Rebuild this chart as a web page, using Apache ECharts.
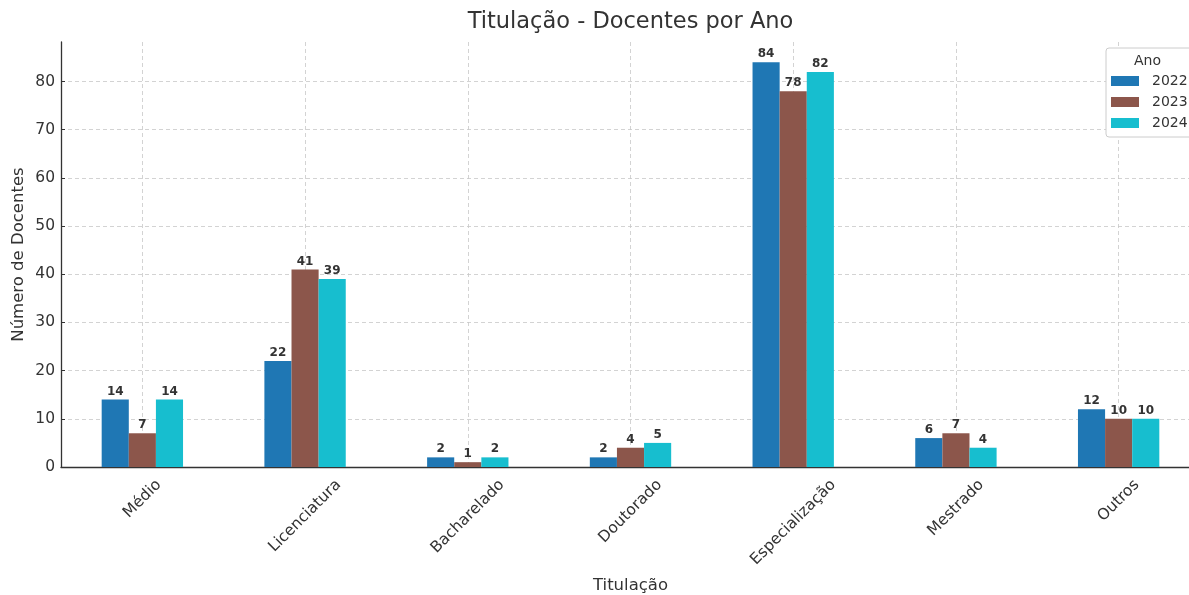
<!DOCTYPE html>
<html>
<head>
<meta charset="utf-8">
<script src="https://cdn.jsdelivr.net/npm/echarts@6/dist/echarts.min.js"></script>
<style>
  html, body { margin: 0; padding: 0; background: #ffffff; }
  #chart { width: 1189px; height: 595px; }
</style>
</head>
<body>
<div id="chart"></div>
<script>
// Titulação dos docentes, por ano
const categories = ['Médio', 'Licenciatura', 'Bacharelado', 'Doutorado', 'Especialização', 'Mestrado', 'Outros'];
const years = ['2022', '2023', '2024'];
const docentes2022 = [14, 22, 2, 2, 84, 6, 12];
const docentes2023 = [7, 41, 1, 4, 78, 7, 10];
const docentes2024 = [14, 39, 2, 5, 82, 4, 10];
const yMax = 88.2;
const yStep = 10;

const FONT = 'DejaVu Sans';
const TEXT = '#333333';
const TICK_SIZE = 15.5;
const NAME_SIZE = 16.5;
const colors = ['#1f77b4', '#8c564b', '#17becf'];
const seriesValues = [docentes2022, docentes2023, docentes2024];

const GRID = { left: 61, top: 42, width: 1139, height: 425, outerBoundsMode: 'none' };

const measureCtx = document.createElement('canvas').getContext('2d');
function textWidth(text, size, weight) {
  measureCtx.font = (weight || 'normal') + ' ' + size + 'px "' + FONT + '"';
  return measureCtx.measureText(text).width;
}

// Rotated category labels: each one centred under its tick, with the top of the
// rotated text box held 9px below the axis. The text is moved back along its own
// direction (right padding) and down across it (line height) by the same amount,
// which nets out to a straight vertical drop.
const LABEL_GAP = 9;
const axisCategories = categories.map(function (name) {
  const w = textWidth(name, TICK_SIZE);
  const drop = LABEL_GAP + (w + TICK_SIZE * 1.164) / (2 * Math.SQRT2);
  const k = Math.SQRT2 * drop;
  return {
    value: name,
    textStyle: { align: 'center', verticalAlign: 'top', lineHeight: k, padding: [0, k, 0, 0] }
  };
});

const titleText = 'Titulação - Docentes por Ano';
const titleSize = 22.5;
const titleLeft = GRID.left + GRID.width / 2 - textWidth(titleText, titleSize) / 2;

const chart = echarts.init(document.getElementById('chart'), null, { renderer: 'canvas' });

chart.setOption({
  animation: false,
  backgroundColor: '#ffffff',
  textStyle: { fontFamily: FONT, color: TEXT },
  title: [
    {
      text: titleText,
      left: titleLeft,
      top: 11,
      padding: 0,
      textStyle: { fontFamily: FONT, fontSize: titleSize, fontWeight: 'normal', color: TEXT }
    },
    {
      text: 'Ano',
      left: 1134,
      top: 54,
      padding: 0,
      textStyle: { fontFamily: FONT, fontSize: 14, fontWeight: 'normal', color: TEXT }
    }
  ],
  legend: {
    orient: 'vertical',
    left: 1106,
    top: 48,
    padding: [26, 8, 7, 5],
    itemGap: 7,
    itemWidth: 28,
    itemHeight: 10,
    icon: 'rect',
    backgroundColor: '#ffffff',
    borderColor: '#cccccc',
    borderWidth: 1,
    borderRadius: 3,
    data: years,
    textStyle: { fontFamily: FONT, fontSize: 14, color: TEXT, padding: [0, 0, 0, 8] }
  },
  grid: GRID,
  xAxis: {
    type: 'category',
    data: axisCategories,
    name: 'Titulação',
    nameLocation: 'middle',
    nameGap: 110,
    nameMoveOverlap: false,
    nameTextStyle: { fontFamily: FONT, fontSize: NAME_SIZE, color: TEXT },
    axisLine: { show: true, lineStyle: { color: '#333333', width: 1.3 } },
    axisTick: { show: true, alignWithLabel: true, inside: true, length: 4, lineStyle: { color: '#333333' } },
    axisLabel: {
      interval: 0,
      rotate: 45,
      align: 'center',
      verticalAlign: 'top',
      margin: 0,
      hideOverlap: false,
      fontFamily: FONT,
      fontSize: TICK_SIZE,
      color: TEXT
    },
    splitLine: {
      show: true,
      alignWithLabel: true,
      lineStyle: { color: '#c8c8c8', type: [4, 3], width: 0.8 }
    }
  },
  yAxis: {
    type: 'value',
    min: 0,
    max: yMax,
    interval: yStep,
    name: 'Número de Docentes',
    nameLocation: 'middle',
    nameGap: 34,
    nameMoveOverlap: false,
    nameTextStyle: { fontFamily: FONT, fontSize: NAME_SIZE, color: TEXT },
    axisLine: { show: true, lineStyle: { color: '#333333', width: 1.3 } },
    axisTick: { show: true, inside: true, length: 4, lineStyle: { color: '#333333' } },
    axisLabel: {
      margin: 6,
      fontFamily: FONT,
      fontSize: TICK_SIZE,
      color: TEXT,
      showMaxLabel: false
    },
    splitLine: {
      show: true,
      showMaxLine: false,
      lineStyle: { color: '#c8c8c8', type: [4, 3], width: 0.8 }
    }
  },
  series: years.map(function (year, i) {
    return {
      name: year,
      type: 'bar',
      data: seriesValues[i],
      barGap: '0%',
      barCategoryGap: '50%',
      itemStyle: { color: colors[i] },
      label: {
        show: true,
        position: 'top',
        distance: 2,
        fontFamily: FONT,
        fontSize: 12,
        fontWeight: 'bold',
        color: TEXT
      }
    };
  })
});
</script>
</body>
</html>
